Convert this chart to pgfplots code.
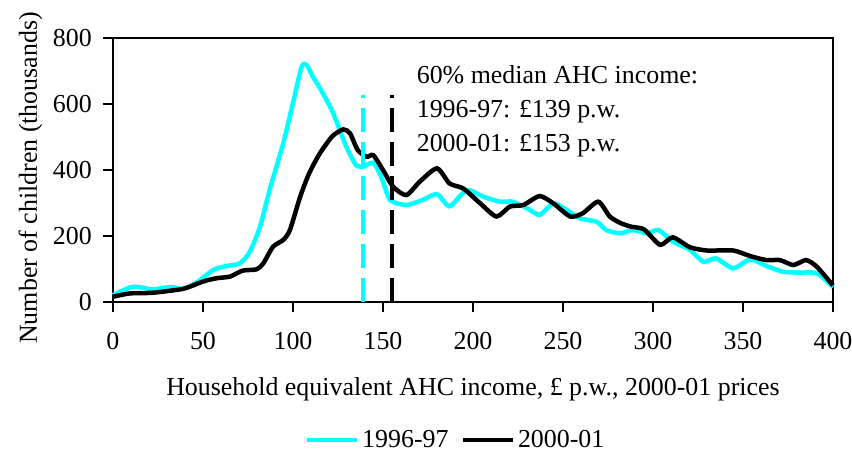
\documentclass[border=0pt]{standalone}
\usepackage{fontspec}
\setmainfont{Liberation Serif}
\usepackage{pgfplots}
\pgfplotsset{compat=1.18}
\definecolor{cyanline}{RGB}{0,255,255}
\begin{document}
\begin{tikzpicture}[font=\fontsize{26}{30}\selectfont]
\begin{axis}[
  scale only axis, width=720bp, height=264bp,
  xmin=0, xmax=400, ymin=0, ymax=800,
  xtick={0,50,...,400}, ytick={0,200,...,800},
  /pgf/number format/assume math mode=true,
  tick align=outside, major tick length=10bp,
  tick style={black, line width=2.2bp},
  xtick pos=bottom, ytick pos=left,
  axis line style={line width=2.5bp},
  clip=false,
  xticklabel style={anchor=base, yshift=-38bp},
  yticklabel style={anchor=east, inner sep=0pt, xshift=-11bp},
  xlabel={Household equivalent AHC income, \pounds\ p.w., 2000-01 prices},
  ylabel={Number of children (thousands)},
  xlabel style={at={(axis description cs:0.5,-0.356)}, anchor=base},
  ylabel style={at={(axis description cs:-0.1056,0.47)}, anchor=base},
  legend columns=2,
  legend style={at={(axis description cs:0.2667,-0.5227)}, anchor=west, draw=none, fill=none,
    inner sep=0pt, nodes={inner sep=2.5bp}, /tikz/every even column/.append style={column sep=10bp}},
  legend image code/.code={\draw[#1] (0bp,0bp) -- (50bp,0bp);},
]
\addplot[cyanline, line width=4.5bp, smooth, tension=0.4] coordinates {
(0,21) (9.4,44) (15,45) (22,38) (32,45) (39,40) (46.5,59) (55.7,97) (63,109) (70.5,117)
(76,152) (81.7,228) (87,339) (94.6,481) (100,603) (104.8,713) (107.6,718) (111,683)
(115,648) (121.5,582) (126,521) (130,466) (135,415) (139,410) (144.6,422) (149,380)
(154,309) (163,294) (172,309) (180,327) (187,290) (196.5,339) (205.7,319) (215,304)
(222,304) (230,284) (237,264) (244.6,299) (252,279) (259,254) (268.7,243) (274,218)
(281.7,208) (289,218) (296.5,208) (303,218) (311,183) (320.5,158) (328,122) (335,132)
(344.6,102) (354,129) (363,109) (372,92) (381,89) (391,87) (400,45)
};
\addlegendentry{1996-97}
\addplot[black, line width=4.5bp, smooth, tension=0.4] coordinates {
(0,16) (9.4,26) (22,28) (39,40) (50,62) (57.6,72) (65,77) (72,95) (79.8,99) (83.5,117)
(89,168) (94.6,188) (98.3,218) (104,319) (109,390) (115,451) (122,503) (128,523)
(131.7,511) (136,460) (141,440) (144.6,445) (150,400) (155.7,349) (163,324) (170.5,365)
(180,405) (187,359) (194.6,344) (204,299) (213,259) (220.5,289) (228,294) (237,321)
(244.6,299) (254,259) (261,269) (269.6,304) (276,259) (282,239) (288,228) (295,220)
(304,173) (311,196) (320.5,166) (330,156) (344.6,156) (354,139) (363,127) (370.5,127)
(378,112) (385,127) (391,107) (400,50)
};
\addlegendentry{2000-01}
\addplot[cyanline, line width=4.5bp, dash pattern=on 24bp off 10bp, forget plot] coordinates {(139,0) (139,627)};
\addplot[black, line width=4.5bp, dash pattern=on 24bp off 10bp, forget plot] coordinates {(155,0) (155,627)};
\node[anchor=base west, inner sep=0pt] at (axis cs:168.7,660.6) {60\% median AHC income:};
\node[anchor=base west, inner sep=0pt] at (axis cs:168.7,558.5) {1996-97: \pounds139 p.w.};
\node[anchor=base west, inner sep=0pt] at (axis cs:168.7,455.5) {2000-01: \pounds153 p.w.};
\coordinate (bbsw) at (rel axis cs:-0.1569,-0.5795);
\coordinate (bbne) at (rel axis cs:1.0264,1.1439);
\end{axis}
\pgfresetboundingbox
\path (bbsw) rectangle (bbne);
\end{tikzpicture}
\end{document}
